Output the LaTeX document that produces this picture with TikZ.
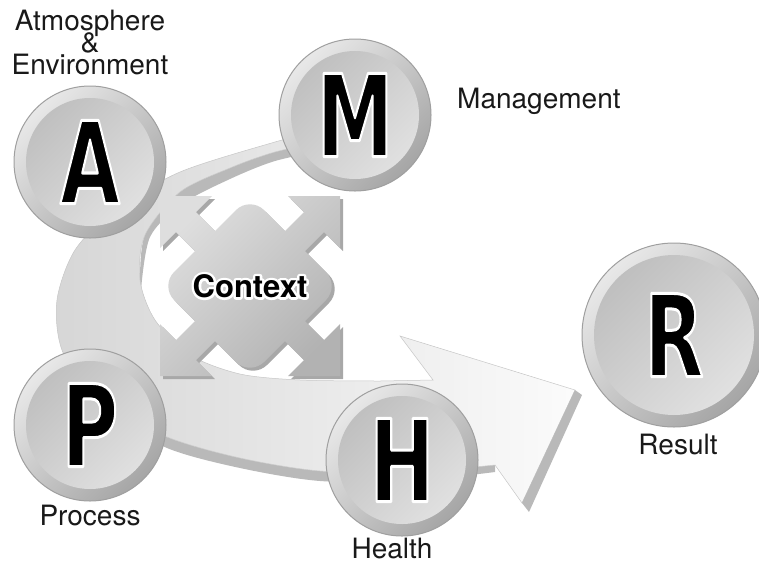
\documentclass[tikz,border=0pt]{standalone}
\usepackage{fontspec}
\usepackage{graphicx}
\usetikzlibrary{positioning, shadings}

\newfontfamily\labelfont{TeX Gyre Heros}
\newfontfamily\bubblefont{DejaVu Sans}
% stroked text: white rim round the glyphs
\newcommand{\rimon}[1]{\special{pdf:literal direct 1 G 2 Tr #1 w 1 j}}
\newcommand{\rimoff}{\special{pdf:literal direct 0 Tr 0.4 w 0 G 0 j}}
% fat narrow letter with a thin white rim
\newcommand{\bubble}[1]{\scalebox{.68}[1]{\rimon{3}#1\rimoff}}
% four corner heads, two shafts and the rounded body
\newcommand{\ctxshape}{(160,196) -- (212,196) -- (160,248) -- cycle
  (288,196) -- (340,196) -- (340,248) -- cycle
  (340,324) -- (340,376) -- (288,376) -- cycle
  (160,324) -- (212,376) -- (160,376) -- cycle
  (190,206) -- (330,346) -- (310,366) -- (170,226) -- cycle
  (310,206) -- (330,226) -- (190,366) -- (170,346) -- cycle
  [rounded corners=20pt] (250,196) -- (340,286) -- (250,376) -- (160,286) -- cycle}

\tikzset{
  disc/.style={circle, minimum size=#1, inner sep=0pt, draw=gray!75, line width=1pt,
    top color=gray!18, bottom color=gray!70, shading angle=45,
    path picture={\shade[top color=gray!52, bottom color=gray!22, shading angle=45]
      (path picture bounding box.center) circle ({#1/2-12pt});},
    font=\bubblefont\bfseries\fontsize{114}{114}\selectfont},
  disc/.default=152pt,
  lbl/.style={font={\labelfont\fontsize{28}{22}\selectfont\setlength{\lineskiplimit}{-30pt}},
    inner sep=0pt, text=black!90},
  ctxtext/.style={font=\labelfont\bfseries\fontsize{31}{31}\selectfont, inner sep=0pt},
  wall/.style={fill=gray!55},
}

\begin{document}
\begin{tikzpicture}[x=1pt, y=-1pt]
  \useasboundingbox (0,0) rectangle (759,563);

  % ribbon: inner wall on the far side, outer wall on the near side
  \fill[wall] plot[smooth] coordinates {(330,140) (275,152) (230,168) (180,192) (145,235) (140,282)}
    -- plot[smooth] coordinates {(141,290) (150,237) (182,204) (230,179) (275,161) (330,149)} -- cycle;
  \fill[wall] plot[smooth] coordinates {(95,400) (167,437) (240,458) (320,471) (410,472) (495,465)}
    -- plot[smooth] coordinates {(495,472) (410,481) (320,481) (240,468) (167,448) (100,410)} -- cycle;

  % top face of the ribbon with its head
  \shade[left color=gray!32, right color=gray!3, draw=gray!45, line width=.5pt]
    plot[smooth] coordinates {(330,128) (275,142) (180,172) (115,210) (75,250) (57,300) (62,350)
      (95,400) (167,437) (240,458) (320,471) (410,472) (495,465)}
    -- (522,503) -- (575,390) -- (400,336) -- (433,380)
    -- plot[smooth] coordinates {(380,381) (300,380) (240,374) (190,355) (155,320) (140,280)
      (145,235) (180,192) (230,168) (275,152) (330,140)} -- cycle;
  \fill[wall] (575,390) -- (582,395) -- (529,512) -- (522,503) -- cycle;

  % context icon
  \coordinate (ctx) at (250,286);
  \fill[gray!68, shift={(3,3)}] \ctxshape;
  \shade[top color=gray!26, bottom color=gray!60, shading angle=45] \ctxshape;
  \node[ctxtext, text=white] (halo) at (ctx) {\rimon{5}Context\rimoff};
  \node[ctxtext] (context) at (ctx) {Context};

  % the five discs
  \node[disc] (A) at (90,162) {\bubble{A}};
  \node[disc] (M) at (355,115) {\bubble{M}};
  \node[disc] (P) at (90,425) {\bubble{P}};
  \node[disc] (H) at (402,460) {\bubble{H}};
  \node[disc=184pt] (R) at (674,335) {\bubble{R}};

  % labels
  \node[lbl, align=center, above=10pt of A] (atmos) {Atmosphere\\\&\\Environment};
  \node[lbl, anchor=base west] (mgmt) at (457,108) {Management};
  \node[lbl, below=3pt of P] (proc) {Process};
  \node[lbl, below=1pt of H, xshift=-10pt] (hlth) {Health};
  \node[lbl, below=6pt of R, xshift=4pt] (res) {Result};
\end{tikzpicture}
\end{document}
